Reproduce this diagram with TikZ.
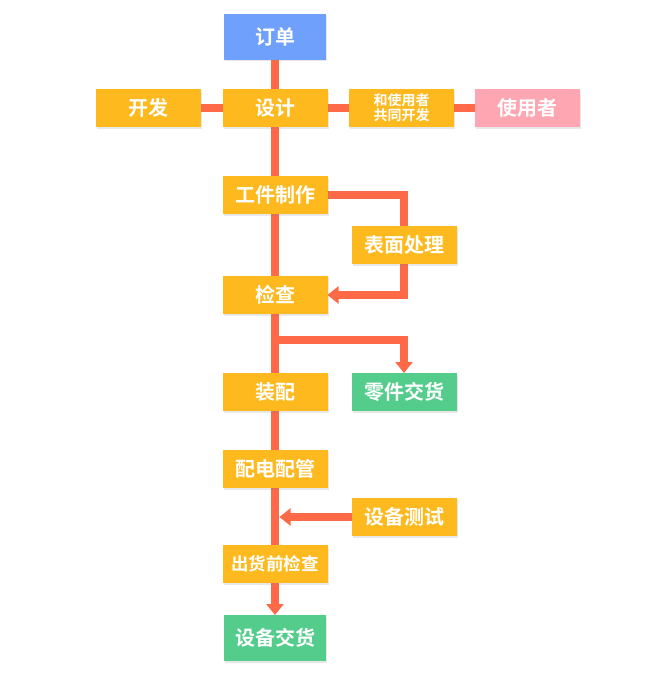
\documentclass[tikz,border=0pt]{standalone}
\usepackage{fontspec}
\newfontfamily\cjk{Noto Sans CJK SC}[BoldFont={Noto Sans CJK SC Bold}]
\usepackage{tikz}
\usetikzlibrary{arrows.meta,shadows,backgrounds}
\definecolor{boxblue}{HTML}{6FA0FC}
\definecolor{boxorange}{HTML}{FDB91D}
\definecolor{boxpink}{HTML}{FEA6B1}
\definecolor{boxgreen}{HTML}{54CC8C}
\definecolor{flow}{HTML}{FE6A47}
\begin{document}
\begin{tikzpicture}[
     x = 1pt, y = -1pt,
Box/.style={fill=boxorange, text=white, minimum width=105pt, minimum height=38pt,
            inner sep=0pt, outer sep=0pt, font=\cjk\bfseries\fontsize{20}{24}\selectfont,
            drop shadow={shadow xshift=1pt, shadow yshift=-1.5pt, opacity=.18}},
BigBox/.style={Box, minimum width=102pt, minimum height=46pt},
Link/.style={draw=flow, line width=8.5pt},
Tip/.style={Link, -{Triangle[width=17pt, length=11pt]}},
  ]
\useasboundingbox (0,0) rectangle (668,677);
\node [BigBox, fill=boxblue]  (order)  at (275,37)  {订单};
\node [Box]                   (dev)    at (148.5,108) {开发};
\node [Box]                   (design) at (275,108) {设计};
\node [Box, align=center, font=\cjk\bfseries\fontsize{14}{15}\selectfont]
                              (joint)  at (401.5,108) {和使用者\\共同开发};
\node [Box, fill=boxpink]     (user)   at (527.5,108) {使用者};
\node [Box]                   (make)   at (275,195) {工件制作};
\node [Box]                   (surf)   at (404,245) {表面处理};
\node [Box]                   (check)  at (275,295) {检查};
\node [Box]                   (asm)    at (275,392) {装配};
\node [Box, fill=boxgreen]    (parts)  at (404,392) {零件交货};
\node [Box]                   (wire)   at (275,469) {配电配管};
\node [Box]                   (test)   at (404,517) {设备测试};
\node [Box, font=\cjk\bfseries\fontsize{17.5}{20}\selectfont]
                              (final)  at (275,564) {出货前检查};
\node [BigBox, fill=boxgreen] (ship)   at (275,638) {设备交货};
\coordinate (fork) at (275,340);
\coordinate (join) at (279.5,517);
\begin{pgfonlayer}{background}
  \draw [Link] (order) -- (design) -- (make) -- (check) -- (asm) -- (wire) -- (final);
  \draw [Link] (dev) -- (design) -- (joint) -- (user);
  \draw [Link] (make.east) -| (surf.north);
  \draw [Tip] (surf.south) |- (check.east);
  \draw [Tip] (fork) -| (parts.north);
  \draw [Tip] (test.west) -- (join);
  \draw [Tip] (final) -- (ship);
\end{pgfonlayer}
\end{tikzpicture}
\end{document}
